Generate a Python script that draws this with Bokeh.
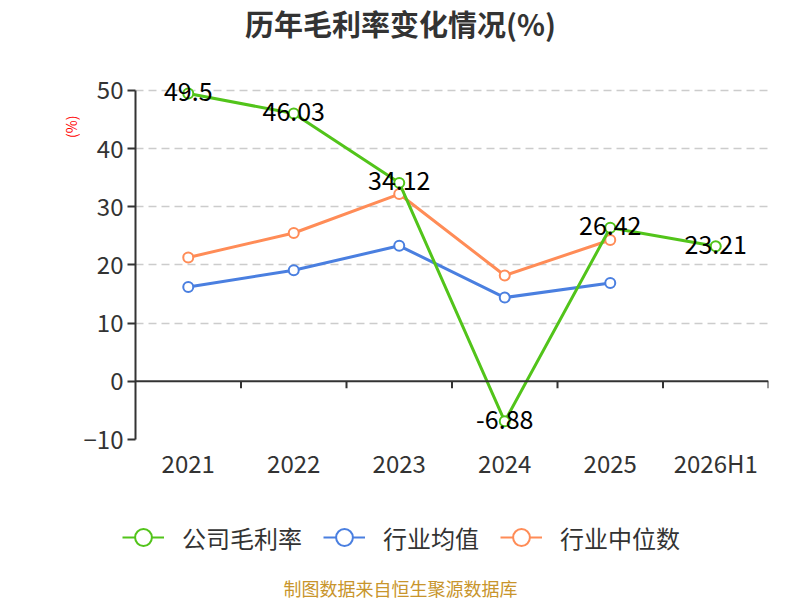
import math
from bokeh.plotting import figure
from bokeh.layouts import column, row
from bokeh.models import (ColumnDataSource, Span, Legend, LegendItem, Label,
                          FixedTicker, Range1d, FactorRange)
from bokeh.core.properties import value
from bokeh.embed import file_html
from bokeh.resources import INLINE

categories = ["2021", "2022", "2023", "2024", "2025", "2026H1"]
company = [49.5, 46.03, 34.12, -6.88, 26.42, 23.21]
industry_avg = [16.2, 19.1, 23.3, 14.4, 16.9]
industry_median = [21.3, 25.5, 32.2, 18.2, 24.3]
company_labels = ["49.5", "46.03", "34.12", "-6.88", "26.42", "23.21"]
y_ticks = [-10, 0, 10, 20, 30, 40, 50]
series_names = ["公司毛利率", "行业均值", "行业中位数"]

GREEN = "#52c41a"
BLUE = "#4a7fe0"
ORANGE = "#ff8c57"
FONT = "Noto Sans CJK SC"
NAN = float("nan")


def blank(w, h):
    f = figure(width=w, height=h, x_range=Range1d(0, w), y_range=Range1d(0, h),
               output_backend="svg", toolbar_location=None,
               x_axis_location=None, y_axis_location=None, min_border=0)
    f.outline_line_color = None
    f.grid.visible = False
    return f


# ---- title strip ----
top = blank(800, 60)
top.add_layout(Label(x=400, y=38, text="历年毛利率变化情况(%)", text_align="center",
                     text_baseline="middle", text_color="#333333", text_font=FONT,
                     text_font_size="29px", text_font_style="bold"))

# ---- left strip with unit label ----
left = blank(80, 440)
left.add_layout(Label(x=70, y=375, text="(%)", angle=math.pi / 2, text_align="center",
                      text_baseline="middle", text_color="red", text_font=FONT,
                      text_font_size="14px"))

# ---- main plot ----
p = figure(width=720, height=440, x_range=FactorRange(*categories),
           y_range=Range1d(-10, 53.094), output_backend="svg", toolbar_location=None,
           min_border_left=55, min_border_right=32, min_border_top=12,
           min_border_bottom=61)
p.outline_line_color = None

p.yaxis.ticker = FixedTicker(ticks=y_ticks)
p.yaxis.bounds = (-10, 50)
p.yaxis.axis_line_color = "#333333"
p.yaxis.axis_line_width = 2
p.yaxis.major_tick_line_color = "#333333"
p.yaxis.major_tick_line_width = 2
p.yaxis.major_tick_out = 8
p.yaxis.major_tick_in = 0
p.yaxis.minor_tick_line_color = None
p.yaxis.major_label_text_font = FONT
p.yaxis.major_label_text_font_size = "24px"
p.yaxis.major_label_text_color = "#333333"
p.yaxis.major_label_standoff = 4

p.xaxis.axis_line_color = None
p.xaxis.major_tick_line_color = None
p.xaxis.major_tick_out = 0
p.xaxis.major_tick_in = 0
p.xaxis.minor_tick_line_color = None
p.xaxis.major_label_text_font = FONT
p.xaxis.major_label_text_font_size = "24px"
p.xaxis.major_label_text_color = "#333333"
p.xaxis.major_label_standoff = 5

p.xgrid.grid_line_color = None
p.ygrid.ticker = FixedTicker(ticks=[t for t in y_ticks if t != 0])
p.ygrid.grid_line_color = "#cccccc"
p.ygrid.grid_line_dash = "8 5"
p.ygrid.grid_line_width = 1.5

p.add_layout(Span(location=0, dimension="width", line_color="#333333", line_width=2))
bounds = [(c, 0.5) for c in categories]
p.ray(x=bounds, y=[0] * len(bounds), length=7, length_units="screen",
      angle=-math.pi / 2, line_color="#333333", line_width=2)

src_c = ColumnDataSource(dict(x=categories, y=company, t=company_labels))
src_a = ColumnDataSource(dict(x=categories[:5], y=industry_avg))
src_m = ColumnDataSource(dict(x=categories[:5], y=industry_median))

for src, col in ((src_m, ORANGE), (src_a, BLUE), (src_c, GREEN)):
    p.line("x", "y", source=src, line_color=col, line_width=3)
    p.scatter("x", "y", source=src, size=10, fill_color="white", line_color=col,
              line_width=2)

p.text("x", "y", text="t", source=src_c, text_align="center", text_baseline="middle",
       y_offset=-2, text_font=value(FONT), text_font_size="25px", text_color="#000000")

# ---- legend + footnote strip ----
bot = blank(800, 100)
items = []
for name, col in zip(series_names, (GREEN, BLUE, ORANGE)):
    r1 = bot.line(x=[NAN], y=[NAN], line_color=col, line_width=2)
    r2 = bot.scatter(x=[NAN], y=[NAN], size=18, fill_color="white", line_color=col,
                     line_width=2)
    items.append(LegendItem(label=name, renderers=[r1, r2]))
legend = Legend(items=items, orientation="horizontal", location=(122, 41),
                label_text_font=FONT, label_text_font_size="24px",
                label_text_color="#333333", glyph_width=42, glyph_height=44,
                spacing=21, label_standoff=18, border_line_color=None,
                background_fill_alpha=0, margin=0, padding=0)
bot.add_layout(legend, "center")
bot.add_layout(Label(x=400, y=13, text="制图数据来自恒生聚源数据库", text_align="center",
                     text_baseline="middle", text_color="#c8952c", text_font=FONT,
                     text_font_size="18px"))

layout = column(top, row(left, p, spacing=0), bot, spacing=0)
open("out.html", "w").write(file_html(layout, INLINE))
